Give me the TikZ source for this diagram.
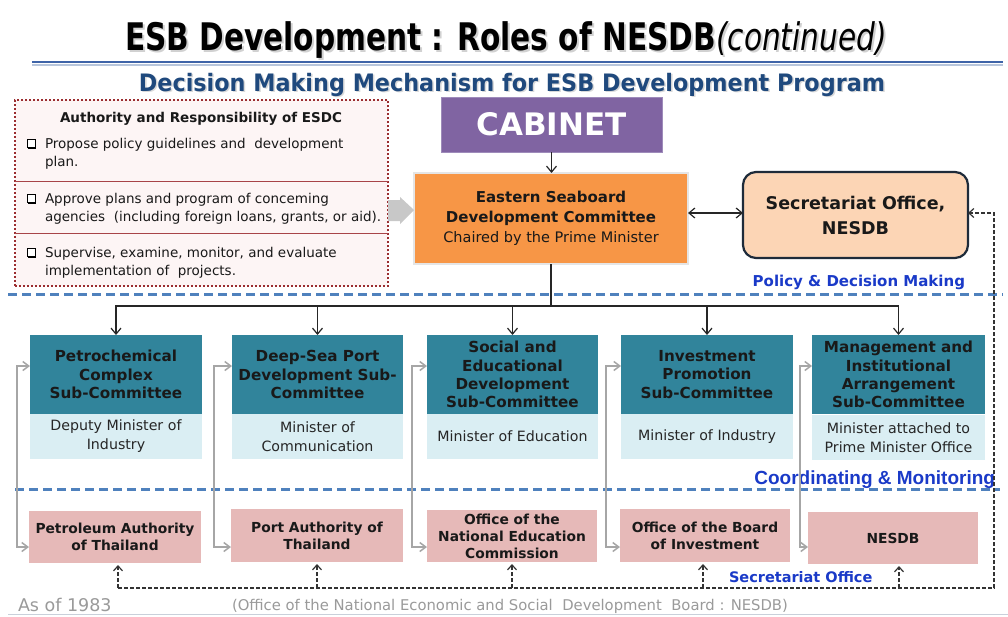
\documentclass[tikz,border=0pt]{standalone}
\usepackage{fontspec}
\setmainfont{DejaVu Sans}
\newfontfamily\titlefont{DejaVu Sans}[FakeStretch=0.78]
\newfontfamily\subtitlefont{DejaVu Sans}[FakeStretch=0.93]
\newfontfamily\arialfont{Liberation Sans}
\usetikzlibrary{arrows.meta,shadows}

\definecolor{cabinetpurple}{HTML}{8064A2}
\definecolor{cabinetedge}{HTML}{9E8BBA}
\definecolor{esdcorange}{HTML}{F79646}
\definecolor{secpeach}{HTML}{FCD5B5}
\definecolor{secedge}{HTML}{1E2B3A}
\definecolor{subteal}{HTML}{31849B}
\definecolor{chairblue}{HTML}{DAEEF3}
\definecolor{agencypink}{HTML}{E6B9B8}
\definecolor{tierblue}{HTML}{4F81BD}
\definecolor{labelblue}{HTML}{1A3AC8}
\definecolor{headblue}{HTML}{1F497D}
\definecolor{ruleblue}{HTML}{3E64A8}
\definecolor{ruleshade}{HTML}{B8C6DC}
\definecolor{dotred}{HTML}{9B2D30}
\definecolor{panelpink}{HTML}{FDF5F5}
\definecolor{seprule}{HTML}{A84448}
\definecolor{arrowgray}{HTML}{A6A6A6}
\definecolor{bigarrowgray}{HTML}{C8C8C8}
\definecolor{footgray}{HTML}{9A9A9A}
\definecolor{footrule}{HTML}{C9D0DA}

\tikzset{
  every node/.style={inner sep=0pt, outer sep=0pt},
  >={Straight Barb[length=6pt,width=10pt]},
  corner/.style={anchor=north west, align=center},
  cabinetbox/.style={corner, fill=cabinetpurple, draw=cabinetedge, line width=0.8pt,
    text=white, font=\fontsize{31}{34}\selectfont\bfseries},
  esdcbox/.style={corner, fill=esdcorange, draw=black!10, line width=1.5pt,
    text=black!90, font=\fontsize{15}{20}\selectfont},
  secbox/.style={corner, fill=secpeach, draw=secedge, line width=2.2pt,
    rounded corners=13pt, text=black!90, font=\fontsize{17.5}{25}\selectfont\bfseries},
  subhead/.style={corner, fill=subteal, text=black!90,
    font=\fontsize{15.2}{18.3}\selectfont\bfseries},
  subchair/.style={corner, fill=chairblue, text=black!85,
    font=\fontsize{14.2}{19}\selectfont},
  agency/.style={corner, fill=agencypink, text=black!90,
    font=\fontsize{13.8}{17}\selectfont\bfseries},
  panel/.style={corner, draw=dotred, fill=panelpink, line width=2pt, dotted},
  itemtext/.style={anchor=north west, align=left, text=black!90,
    font=\fontsize{13.5}{18.5}\selectfont},
  cbox/.style={draw=black, line width=0.8pt, fill=white, minimum size=8pt,
    drop shadow={shadow xshift=1.2pt, shadow yshift=-1.2pt, fill=black, opacity=1}},
  tierlabel/.style={text=labelblue, font=\fontsize{15}{18}\selectfont\bfseries},
  tierrule/.style={draw=tierblue, line width=2.5pt, dash pattern=on 9pt off 5pt},
  cmd/.style={draw=black!85, line width=1.2pt, ->},
  twoway/.style={draw=black!85, line width=1.2pt, <->},
  coord/.style={draw=arrowgray, line width=1.5pt,
    {Straight Barb[length=6pt,width=9pt]}-{Straight Barb[length=6pt,width=9pt]}},
  secline/.style={draw=black!80, line width=1.2pt, dash pattern=on 4pt off 2pt,
    -{Straight Barb[length=5pt,width=9pt]}},
  foot/.style={text=footgray},
}

\begin{document}
\begin{tikzpicture}[x=1pt,y=-1pt]
\useasboundingbox[fill=white] (0,0) rectangle (1008,616);

% ---------- headings ----------
\node[anchor=base, text=black!18, font=\titlefont\fontsize{38}{40}\selectfont\bfseries]
  (titleshadow) at (508,52) {ESB Development : Roles of NESDB\textit{\mdseries(continued)}};
\node[anchor=base, text=black, font=\titlefont\fontsize{38}{40}\selectfont\bfseries]
  (title) at (506,50) {ESB Development : Roles of NESDB\textit{\mdseries(continued)}};
\draw[ruleshade, line width=2pt] (32,64.5) -- (1003,64.5);
\draw[ruleblue, line width=2.5pt] (32,62) -- (1003,62);
\node[anchor=base, text=black!15, font=\subtitlefont\fontsize{24}{26}\selectfont\bfseries]
  (subtitleshadow) at (513.5,92.5) {Decision Making Mechanism for ESB Development Program};
\node[anchor=base, text=headblue, font=\subtitlefont\fontsize{24}{26}\selectfont\bfseries]
  (subtitle) at (512,91) {Decision Making Mechanism for ESB Development Program};

% ---------- authority panel ----------
\node[panel, minimum width=373pt, minimum height=186pt] (authbox) at (15,100) {};
\node[anchor=base, text=black!90, font=\fontsize{13.5}{16}\selectfont\bfseries]
  (authhead) at (201,122) {Authority and Responsibility of ESDC};
\draw[seprule, line width=1pt] (authbox.west |- 0,181) -- (authbox.east |- 0,181);
\draw[seprule, line width=1pt] (authbox.west |- 0,233) -- (authbox.east |- 0,233);
\node[cbox] (cb1) at (31,143.5) {};
\node[itemtext] (item1) at (45,138) {Propose policy guidelines and~ development\\plan.};
\node[cbox] (cb2) at (31,198.5) {};
\node[itemtext] (item2) at (45,193) {Approve plans and program of conceming\\agencies~ (including foreign loans, grants, or aid).};
\node[cbox] (cb3) at (31,252.5) {};
\node[itemtext] (item3) at (45,247) {Supervise, examine, monitor, and evaluate\\implementation of~ projects.};

% ---------- policy tier ----------
\node[cabinetbox, minimum width=221pt, minimum height=55pt] (cabinet) at (441,97) {CABINET};
\node[esdcbox, minimum width=274pt, minimum height=91pt] (esdc) at (414,173)
  {\textbf{Eastern Seaboard}\\\textbf{Development Committee}\\{\fontsize{14.5}{20}\selectfont Chaired by the Prime Minister}};
\node[secbox, minimum width=225pt, minimum height=86pt] (sec) at (743,172) {Secretariat Office,\\NESDB};

% block arrow from the panel into the committee
\fill[bigarrowgray] (authbox.east |- 0,200) -- (400,200) -- (400,197) -- (esdc.west |- 0,210)
  -- (400,224) -- (400,221) -- (authbox.east |- 0,221) -- cycle;

\draw[cmd] (cabinet.south) -- (cabinet.south |- esdc.north);
\draw[twoway] (esdc.east |- 0,213) -- (sec.west |- 0,213);

\node[tierlabel, anchor=base east] (policylabel) at (965,286) {Policy \& Decision Making};
\draw[tierrule] (8,294.5) -- (1003,294.5);

% ---------- sub-committees ----------
\node[subhead, minimum width=172pt, minimum height=79pt] (t1) at (30,335) {Petrochemical\\Complex\\Sub-Committee};
\node[subhead, minimum width=171pt, minimum height=79pt] (t2) at (232,335) {Deep-Sea Port\\Development Sub-\\Committee};
\node[subhead, minimum width=171pt, minimum height=79pt] (t3) at (427,335) {Social and\\Educational\\Development\\Sub-Committee};
\node[subhead, minimum width=172pt, minimum height=79pt] (t4) at (621,335) {Investment\\Promotion\\Sub-Committee};
\node[subhead, minimum width=173pt, minimum height=79pt] (t5) at (812,335) {Management and\\Institutional\\Arrangement\\Sub-Committee};

\node[subchair, minimum width=172pt, minimum height=45pt] (c1) at (30,414) {Deputy Minister of\\Industry};
\node[subchair, minimum width=171pt, minimum height=45pt] (c2) at (232,414) {Minister of\\Communication};
\node[subchair, minimum width=171pt, minimum height=45pt] (c3) at (427,414) {Minister of Education};
\node[subchair, minimum width=172pt, minimum height=45pt] (c4) at (621,414) {Minister of Industry};
\node[subchair, minimum width=173pt, minimum height=45pt] (c5) at (812,415) {Minister attached to\\Prime Minister Office};

\coordinate (bus) at ([yshift=-42pt]esdc.south);
\foreach \t in {t1,t2,t3,t4,t5}
  \draw[cmd] (esdc.south) -- (bus) -| (\t.north);

\node[text=labelblue, anchor=base east, font=\arialfont\fontsize{19}{22}\selectfont\bfseries]
  (coordlabel) at (995,484) {Coordinating \& Monitoring};
\draw[tierrule] (15,489.5) -- (1000,489.5);

% ---------- agencies ----------
\node[agency, minimum width=172pt, minimum height=52pt] (p1) at (29,511) {Petroleum Authority\\of Thailand};
\node[agency, minimum width=172pt, minimum height=53pt] (p2) at (231,509) {Port Authority of\\Thailand};
\node[agency, minimum width=170pt, minimum height=52pt] (p3) at (427,510) {Office of the\\National Education\\Commission};
\node[agency, minimum width=170pt, minimum height=53pt] (p4) at (620,509) {Office of the Board\\of Investment};
\node[agency, minimum width=170pt, minimum height=52pt] (p5) at (808,512) {NESDB};

% coordination links between each sub-committee and its agency
\draw[coord] ([yshift=-31pt]t1.north west) -- ++(-13,0) |- ([yshift=-36pt]p1.north west);
\draw[coord] ([yshift=-31pt]t2.north west) -- ++(-18,0) |- ([yshift=-38pt]p2.north west);
\draw[coord] ([yshift=-31pt]t3.north west) -- ++(-15,0) |- ([yshift=-37pt]p3.north west);
\draw[coord] ([yshift=-31pt]t4.north west) -- ++(-15,0) |- ([yshift=-38pt]p4.north west);
\draw[coord] ([yshift=-31pt]t5.north west) -- ++(-12,0) |- ([yshift=-35pt]p5.north west);

% secretariat line
\coordinate (secbase) at (994,588);
\draw[secline] ([xshift=3pt]p1.south |- secbase) -- (secbase) |- (sec.east |- 0,213);
\draw[secline, shorten >=2pt] ([xshift=3pt]p1.south |- secbase) -- ([xshift=3pt]p1.south);
\draw[secline, shorten >=2pt] (p2.south |- secbase) -- (p2.south);
\draw[secline, shorten >=2pt] (p3.south |- secbase) -- (p3.south);
\draw[secline, shorten >=2pt] ([xshift=-2pt]p4.south |- secbase) -- ([xshift=-2pt]p4.south);
\draw[secline, shorten >=2pt] ([xshift=6pt]p5.south |- secbase) -- ([xshift=6pt]p5.south);

\node[tierlabel, anchor=base west, font=\fontsize{14.5}{17}\selectfont\bfseries]
  (seclabel) at (729,582) {Secretariat Office};

% ---------- footer ----------
\node[foot, anchor=base west, font=\fontsize{17.5}{20}\selectfont] (asof) at (18,611) {As of 1983};
\node[foot, anchor=base west, font=\fontsize{14.8}{17}\selectfont] (source) at (232,610)
  {(Office of the National Economic and Social~ Development~ Board : NESDB)};
\draw[footrule, line width=1.5pt] (8,614.5) -- (1008,614.5);
\end{tikzpicture}
\end{document}
